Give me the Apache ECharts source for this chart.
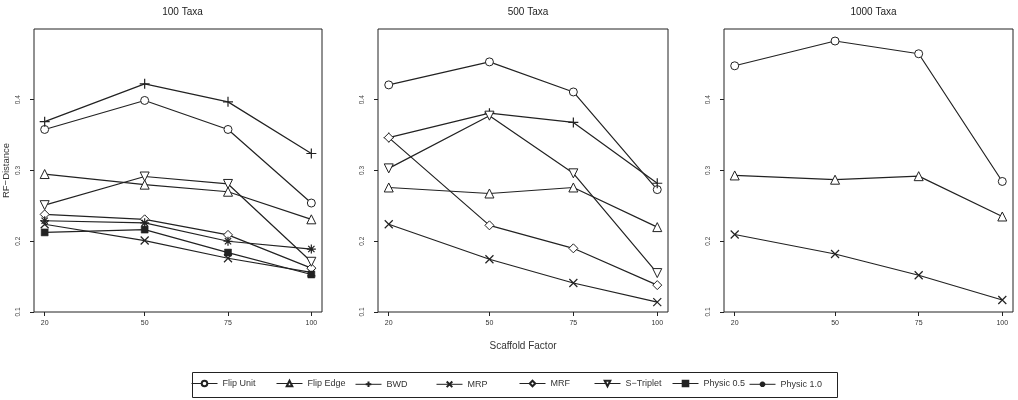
<!DOCTYPE html>
<html>
<head>
<meta charset="utf-8">
<script src="https://cdn.jsdelivr.net/npm/echarts@6/dist/echarts.min.js"></script>
<style>
  html, body { margin: 0; padding: 0; background: #fff; }
  #chart { width: 1018px; height: 400px; }
</style>
</head>
<body>
<div id="chart"></div>
<script>
// data
const xValues = [20, 50, 75, 100];
const yTicks = [0.1, 0.2, 0.3, 0.4];
const panelTitles = ['100 Taxa', '500 Taxa', '1000 Taxa'];
const seriesNames = ['Flip Unit', 'Flip Edge', 'BWD', 'MRP', 'MRF', 'S\u2212Triplet', 'Physic 0.5', 'Physic 1.0'];

// 100 taxa
const flipUnit100 = [0.358, 0.399, 0.358, 0.254];
const flipEdge100 = [0.295, 0.280, 0.270, 0.231];
const bwd100 = [0.369, 0.4225, 0.397, 0.324];
const mrp100 = [0.224, 0.201, 0.176, 0.156];
const mrf100 = [0.238, 0.231, 0.209, 0.162];
const sTriplet100 = [0.251, 0.2915, 0.281, 0.171];
const physic05_100 = [0.2125, 0.2165, 0.184, 0.153];
const physic10_100 = [0.229, 0.226, 0.200, 0.189];

// 500 taxa
const flipUnit500 = [0.421, 0.4535, 0.411, 0.273];
const flipEdge500 = [0.276, 0.2675, 0.276, 0.220];
const bwd500 = [0.3465, 0.381, 0.368, 0.282];
const mrp500 = [0.224, 0.1745, 0.141, 0.114];
const mrf500 = [0.3465, 0.2225, 0.190, 0.138];
const sTriplet500 = [0.303, 0.3775, 0.296, 0.155];

// 1000 taxa
const flipUnit1000 = [0.448, 0.483, 0.465, 0.2845];
const flipEdge1000 = [0.293, 0.287, 0.292, 0.235];
const mrp1000 = [0.2095, 0.182, 0.152, 0.117];

const panels = [
    { 'Flip Unit': flipUnit100, 'Flip Edge': flipEdge100, 'BWD': bwd100, 'MRP': mrp100,
      'MRF': mrf100, 'S\u2212Triplet': sTriplet100, 'Physic 0.5': physic05_100, 'Physic 1.0': physic10_100 },
    { 'Flip Unit': flipUnit500, 'Flip Edge': flipEdge500, 'BWD': bwd500, 'MRP': mrp500,
      'MRF': mrf500, 'S\u2212Triplet': sTriplet500 },
    { 'Flip Unit': flipUnit1000, 'Flip Edge': flipEdge1000, 'MRP': mrp1000 },
];

// styles
const ink = '#222';
const font = 'Liberation Sans';
const hollow = { color: '#fff', borderColor: ink, borderWidth: 1 };
const stroked = { color: 'none', borderColor: ink, borderWidth: 1.2 };
const markers = {
    'Flip Unit': { symbol: 'circle', symbolSize: 8, itemStyle: hollow },
    'Flip Edge': { symbol: 'triangle', symbolSize: 9, itemStyle: hollow },
    'BWD': { symbol: 'path://M5,0 L5,10 M0,5 L10,5', symbolSize: 10, itemStyle: stroked },
    'MRP': { symbol: 'path://M0,0 L10,10 M10,0 L0,10', symbolSize: 8, itemStyle: stroked },
    'MRF': { symbol: 'diamond', symbolSize: 9, itemStyle: hollow },
    'S\u2212Triplet': { symbol: 'triangle', symbolSize: 9, symbolRotate: 180, itemStyle: hollow },
    'Physic 0.5': { symbol: 'rect', symbolSize: 7, itemStyle: { color: ink, borderColor: ink, borderWidth: 0.5 } },
    'Physic 1.0': { symbol: 'path://M5,0 L5,10 M0,5 L10,5 M1.5,1.5 L8.5,8.5 M8.5,1.5 L1.5,8.5', symbolSize: 9, itemStyle: stroked },
};
// legend entry left edges (R spaces them by text width)
const legendLefts = [191, 276, 355, 436, 519, 594, 672, 749];

const gridLefts = [33, 378, 724];
const gridWidths = [289, 290, 289];

const chart = echarts.init(document.getElementById('chart'), null, { renderer: 'canvas' });

const grids = gridLefts.map((left, i) => ({
    left: left, top: 29, width: gridWidths[i], height: 283,
    show: true, borderColor: ink, borderWidth: 1, backgroundColor: 'transparent',
}));

const xAxes = grids.map((g, i) => ({
    type: 'value', gridIndex: i, min: 16.8, max: 103.2,
    axisLine: { show: false },
    splitLine: { show: false },
    axisTick: { show: true, customValues: xValues, length: 4, lineStyle: { color: ink } },
    axisLabel: { customValues: xValues, fontSize: 7, color: '#333', margin: 8, fontFamily: font },
    name: i === 1 ? 'Scaffold Factor' : '',
    nameLocation: 'middle', nameGap: 29,
    nameTextStyle: { fontSize: 10, color: '#333', fontFamily: font },
}));

const yAxes = grids.map((g, i) => ({
    type: 'value', gridIndex: i, min: 0.1, max: 0.5,
    axisLine: { show: false },
    splitLine: { show: false },
    axisTick: { show: true, customValues: yTicks, length: 4, lineStyle: { color: ink } },
    axisLabel: {
        customValues: yTicks, rotate: 90, fontSize: 6.5, color: '#444', margin: 12,
        formatter: v => v.toFixed(1), fontFamily: font,
    },
    name: i === 0 ? 'RF\u2212Distance' : '',
    nameLocation: 'middle', nameGap: 23, nameRotate: 90,
    nameTextStyle: { fontSize: 9.5, color: '#333', fontFamily: font },
}));

let series = [];
panels.forEach((panel, i) => {
    seriesNames.forEach(name => {
        if (!panel[name]) return;
        const m = markers[name];
        series.push({
            name: name,
            type: 'line',
            xAxisIndex: i,
            yAxisIndex: i,
            data: xValues.map((x, j) => [x, panel[name][j]]),
            symbol: m.symbol,
            symbolSize: m.symbolSize,
            symbolRotate: m.symbolRotate || 0,
            showAllSymbol: true,
            itemStyle: m.itemStyle,
            lineStyle: { color: ink, width: 1.2 },
            emphasis: { disabled: true },
            animation: false,
        });
    });
});

const legends = seriesNames.map((n, i) => ({
    left: legendLefts[i], top: 379,
    itemWidth: 26, itemHeight: 7, itemGap: 0,
    padding: 0,
    lineStyle: { width: 1 },
    textStyle: { fontSize: 9, color: '#333', fontFamily: font },
    data: [n],
}));

const option = {
    backgroundColor: '#fff',
    animation: false,
    title: panelTitles.map((t, i) => ({
        text: t,
        left: gridLefts[i] + gridWidths[i] / 2,
        top: 2,
        textAlign: 'center',
        textStyle: { fontSize: 10, fontWeight: 'normal', color: '#222', fontFamily: font },
    })),
    grid: grids,
    xAxis: xAxes,
    yAxis: yAxes,
    legend: legends,
    graphic: [{
        type: 'rect',
        shape: { x: 192.5, y: 372.5, width: 645, height: 25 },
        style: { fill: 'none', stroke: ink, lineWidth: 1 },
        silent: true,
    }],
    series: series,
};

chart.setOption(option);
</script>
</body>
</html>
